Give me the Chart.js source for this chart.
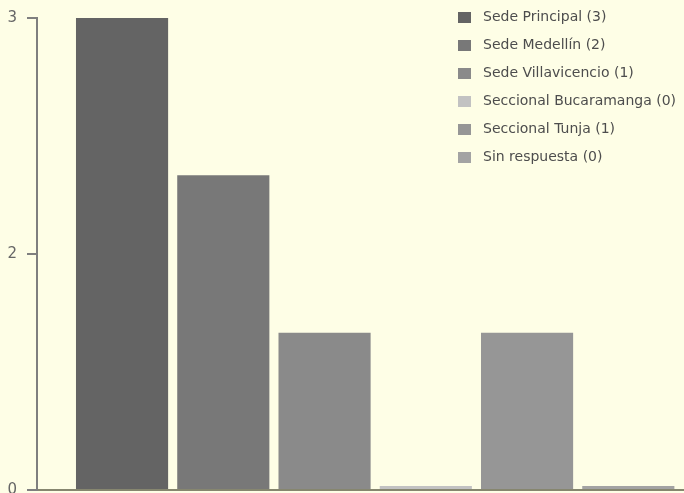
<!DOCTYPE html>
<html>
<head>
<meta charset="utf-8">
<script src="https://cdn.jsdelivr.net/npm/chart.js@4"></script>
<style>
  body { margin: 0; background: #fefee6; }
  canvas { display: block; }
</style>
</head>
<body>
<canvas id="myChart" width="684" height="493"></canvas>
<script>
// data
const categories = ['Sede Principal', 'Sede Medellín', 'Sede Villavicencio', 'Seccional Bucaramanga', 'Seccional Tunja', 'Sin respuesta'];
const values = [3, 2, 1, 0, 1, 0];
const barColors = ['#646464', '#787878', '#8a8a8a', '#c2c2c2', '#969696', '#a3a3a3'];
const tickValues = [0, 1.5, 3];
const tickLabels = ['0', '2', '3'];

const FONT = 'DejaVu Sans';

// legend drawn on top of the plot, right side
const sideLegend = {
  id: 'sideLegend',
  afterDraw(chart) {
    const ctx = chart.ctx;
    ctx.save();
    ctx.font = '14px "' + FONT + '"';
    ctx.textBaseline = 'middle';
    ctx.textAlign = 'left';
    categories.forEach(function(name, i) {
      const y = 17 + i * 28;
      ctx.fillStyle = barColors[i];
      ctx.fillRect(458, y - 5, 13, 11);
      ctx.fillStyle = '#4d4d4d';
      ctx.fillText(name + ' (' + values[i] + ')', 483, y);
    });
    ctx.restore();
  }
};

const ctx = document.getElementById('myChart').getContext('2d');
const myChart = new Chart(ctx, {
  type: 'bar',
  data: {
    datasets: [{
      label: 'Respuestas',
      data: values.map((v, i) => ({ x: i, y: v })),
      backgroundColor: barColors,
      borderWidth: 0,
      minBarLength: 4,
      barPercentage: 0.91,
      categoryPercentage: 1
    }]
  },
  options: {
    responsive: false,
    animation: false,
    layout: { padding: { top: 18, bottom: 3, right: 0, left: 0 } },
    plugins: {
      legend: { display: false },
      tooltip: { enabled: false }
    },
    scales: {
      x: {
        type: 'linear',
        offset: false,
        min: -0.84,
        max: 5.55,
        afterBuildTicks(scale) {
          scale.ticks = categories.map((c, i) => ({ value: i }));
        },
        ticks: { display: false },
        grid: { display: false, drawTicks: false },
        border: { display: true, color: '#86866f', width: 2 },
        afterFit(scale) { scale.height = 0; }
      },
      y: {
        min: 0,
        max: 3,
        afterBuildTicks(scale) {
          scale.ticks = tickValues.map(v => ({ value: v }));
        },
        ticks: {
          padding: 10,
          color: '#666666',
          font: { family: FONT, size: 15 },
          callback: (v, i) => tickLabels[i]
        },
        grid: { drawOnChartArea: false, tickLength: 10, color: '#7f7f7f', lineWidth: 2 },
        border: { color: '#7f7f7f', width: 2 },
        afterFit(scale) {
          scale.width = 37;
          scale.paddingTop = 0;
          scale.paddingBottom = 0;
        }
      }
    }
  },
  plugins: [sideLegend]
});
</script>
</body>
</html>
